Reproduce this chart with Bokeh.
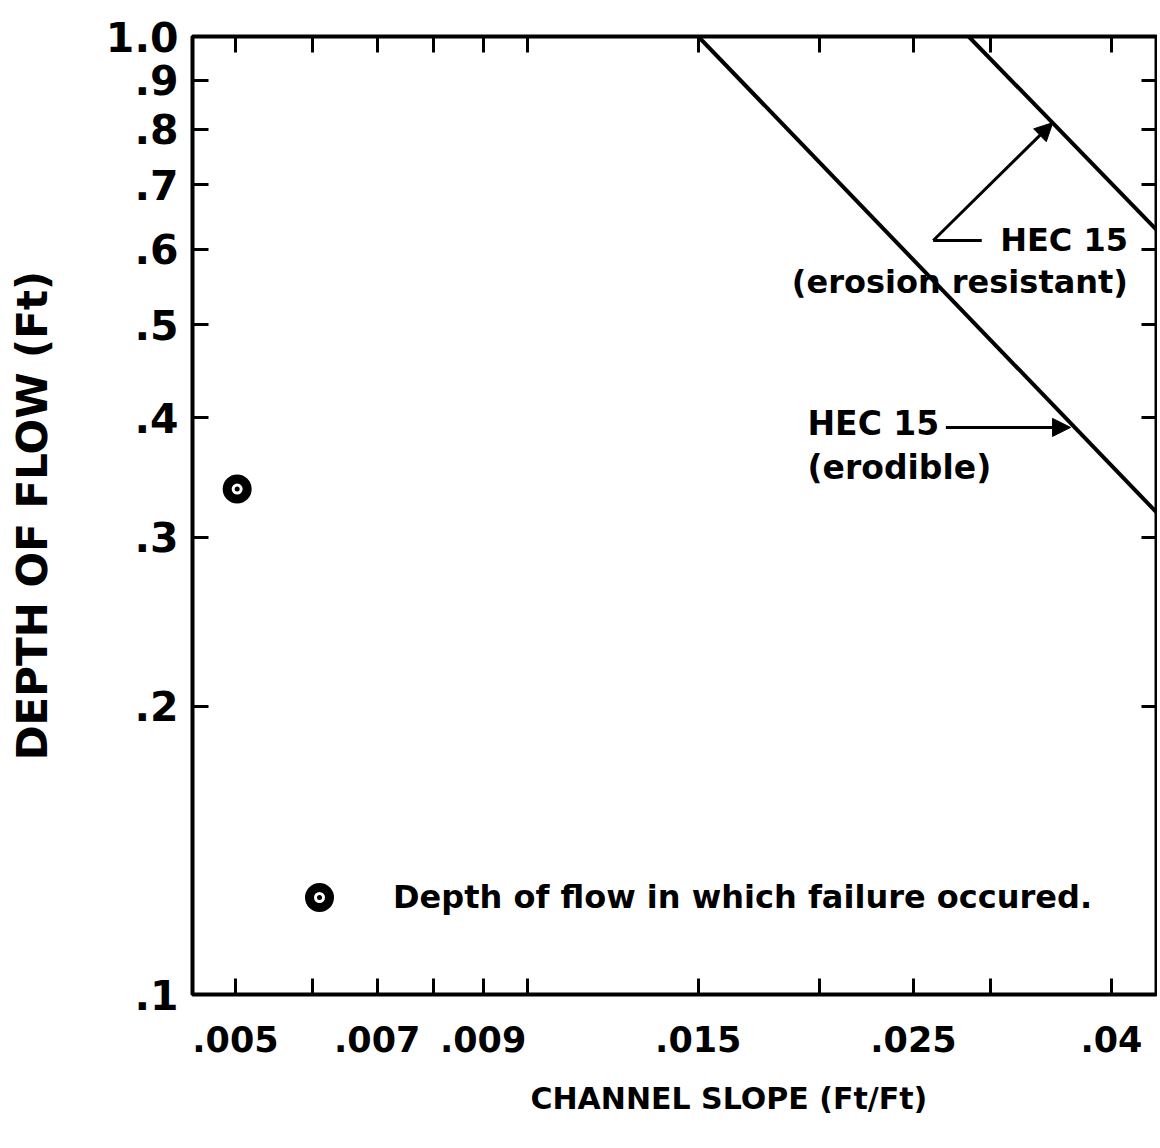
from bokeh.plotting import figure
from bokeh.models import Range1d, FixedTicker, LogAxis, Arrow, NormalHead, Legend, LegendItem, Title
from bokeh.core.properties import value
from bokeh.embed import file_html
from bokeh.resources import INLINE

# ---------------- data ----------------
# HEC 15 (erodible) limiting line: channel slope vs depth of flow
erodible_slope = [0.015, 0.0446]
erodible_depth = [1.0, 0.318]
# HEC 15 (erosion resistant) limiting line
resistant_slope = [0.0285, 0.0446]
resistant_depth = [1.0, 0.627]
# observed failure
failure_slope = [0.00502]
failure_depth = [0.337]
failure_label = "Depth of flow in which failure occured."

x_ticks = [0.005, 0.006, 0.007, 0.008, 0.009, 0.01, 0.015, 0.02, 0.025, 0.03, 0.04]
x_tick_labels = [".005", "", ".007", "", ".009", "", ".015", "", ".025", "", ".04"]
y_ticks = [0.1, 0.2, 0.3, 0.4, 0.5, 0.6, 0.7, 0.8, 0.9, 1.0]
y_tick_labels = [".1", ".2", ".3", ".4", ".5", ".6", ".7", ".8", ".9", "1.0"]

x_title = "CHANNEL SLOPE (Ft/Ft)"
y_title = "DEPTH OF FLOW (Ft)"

# annotation anchors (data units)
res_text = ["HEC 15", "(erosion resistant)"]
res_text_x = 0.0416
res_text_y = [0.6125, 0.5548]
res_arrow = dict(x_text=0.0294, x_corner=0.0262, y=0.6125, x_tip=0.0348, y_tip=0.813)

ero_text = ["HEC 15", "(erodible)"]
ero_text_x = 0.01944
ero_text_y = [0.3945, 0.3548]
ero_arrow = dict(x_start=0.0270, y=0.3908, x_tip=0.0363)

FONT = "DejaVu Sans"

p = figure(width=1157, height=1140, x_axis_type="log", y_axis_type="log",
           x_range=Range1d(0.004515, 0.04462), y_range=Range1d(0.1, 1.0),
           output_backend="svg", toolbar_location=None,
           min_border_left=192, min_border_right=0, min_border_top=36, min_border_bottom=146)
p.background_fill_color = "white"
p.border_fill_color = "white"
p.outline_line_color = "black"
p.outline_line_width = 4
p.grid.visible = False

xt = FixedTicker(ticks=x_ticks)
yt = FixedTicker(ticks=y_ticks)

def style_axis(ax, ticker, labels, font_size, standoff):
    ax.ticker = ticker
    ax.major_label_overrides = {t: l for t, l in zip(ticker.ticks, labels)}
    ax.axis_line_color = None
    ax.major_tick_in = 16
    ax.major_tick_out = 0
    ax.major_tick_line_width = 3
    ax.major_tick_line_color = "black"
    ax.minor_tick_line_color = None
    ax.major_label_text_font = FONT
    ax.major_label_text_font_style = "bold"
    ax.major_label_text_font_size = font_size
    ax.major_label_text_color = "black"
    ax.major_label_standoff = standoff

xax = p.below[0]
yax = p.left[0]
style_axis(xax, xt, x_tick_labels, "35px", 31)
style_axis(yax, yt, y_tick_labels, "41px", 14)
yax.axis_label = y_title
yax.axis_label_text_font = FONT
yax.axis_label_text_font_style = "bold"
yax.axis_label_text_font_size = "42px"
yax.axis_label_text_color = "black"
yax.axis_label_standoff = 46

# inward ticks on the top and right edges (no labels)
top = LogAxis()
style_axis(top, FixedTicker(ticks=x_ticks), [""] * len(x_ticks), "0px", 0)
top.major_label_text_color = None
right = LogAxis()
style_axis(right, FixedTicker(ticks=y_ticks), [""] * len(y_ticks), "0px", 0)
right.major_label_text_color = None
p.add_layout(top, "above")
p.add_layout(right, "right")

# x-axis title (placed off-centre as in the original)
p.add_layout(Title(text=x_title, align="left", offset=338, standoff=48,
                   text_font=FONT, text_font_style="bold", text_font_size="30px",
                   text_color="black"), "below")

# limiting lines
p.line(erodible_slope, erodible_depth, line_width=4, line_color="black")
p.line(resistant_slope, resistant_depth, line_width=4, line_color="black")

# failure point
r_fail = p.scatter(failure_slope, failure_depth, marker="circle_dot", size=20,
                   line_width=9, line_color="black", fill_color="white")

# annotations
p.text(x=[res_text_x] * 2, y=res_text_y, text=res_text, text_align="right",
       text_baseline="middle", text_font=value(FONT), text_font_style="bold",
       text_font_size="32px", text_color="black")
p.text(x=[ero_text_x] * 2, y=ero_text_y, text=ero_text, text_align="left",
       text_baseline="middle", text_font=value(FONT), text_font_style="bold",
       text_font_size="33px", text_color="black")

p.line([res_arrow["x_text"], res_arrow["x_corner"]], [res_arrow["y"], res_arrow["y"]],
       line_width=3, line_color="black")
p.add_layout(Arrow(end=NormalHead(size=18, fill_color="black", line_color="black", line_width=1),
                   x_start=res_arrow["x_corner"], y_start=res_arrow["y"],
                   x_end=res_arrow["x_tip"], y_end=res_arrow["y_tip"],
                   line_width=3, line_color="black"))
p.add_layout(Arrow(end=NormalHead(size=18, fill_color="black", line_color="black", line_width=1),
                   x_start=ero_arrow["x_start"], y_start=ero_arrow["y"],
                   x_end=ero_arrow["x_tip"], y_end=ero_arrow["y"],
                   line_width=3, line_color="black"))

legend = Legend(items=[LegendItem(label=failure_label, renderers=[r_fail])],
                location=(102, 72), glyph_width=50, glyph_height=50, label_standoff=49,
                padding=0, margin=0, spacing=0, border_line_color=None,
                background_fill_alpha=0, label_text_font=FONT,
                label_text_font_style="bold", label_text_font_size="32px",
                label_text_color="black")
p.add_layout(legend)

open("out.html", "w").write(file_html(p, INLINE))
